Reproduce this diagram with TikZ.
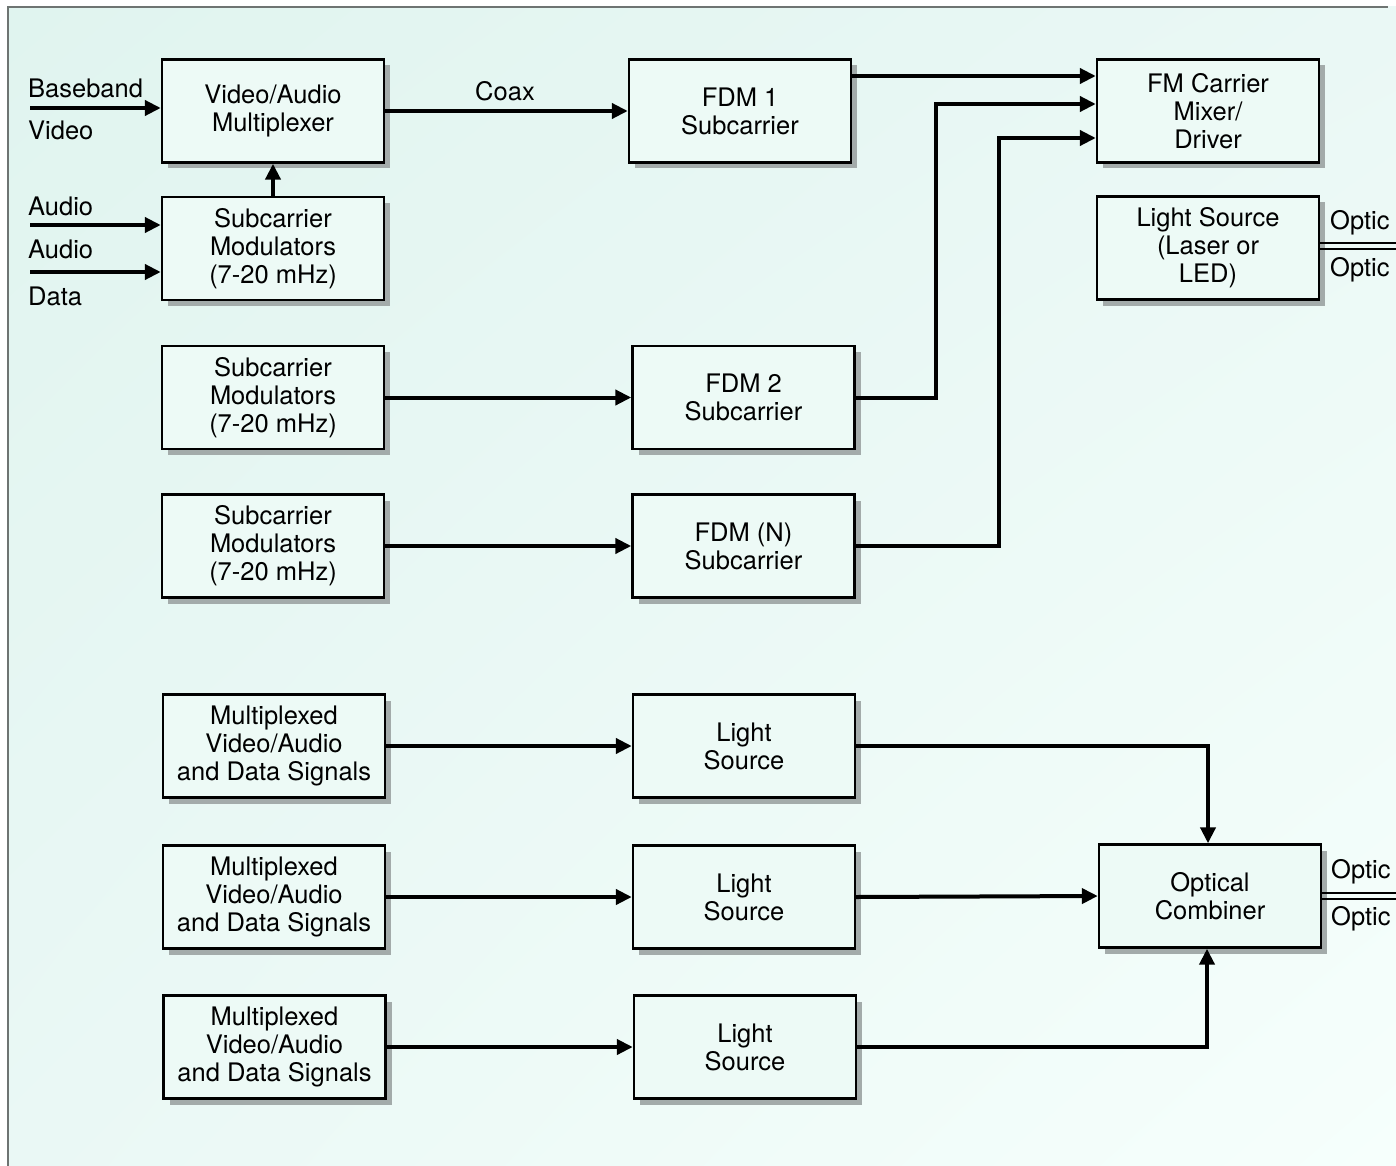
\documentclass[tikz,border=0pt]{standalone}
\usepackage{fontspec}
\setmainfont{TeX Gyre Heros}
\usetikzlibrary{arrows.meta,calc,shadings}
\definecolor{bgA}{HTML}{E0F4EF}
\definecolor{bgB}{HTML}{EAF8F5}
\definecolor{bgC}{HTML}{F6FFFC}
\definecolor{boxfill}{HTML}{EDFAF6}
\definecolor{shadowc}{HTML}{A3ABAA}
\definecolor{framec}{HTML}{6E7472}
\tikzset{
  blk/.style={draw=black, line width=2.4pt, fill=boxfill, minimum width=222pt, minimum height=103pt,
    inner sep=0pt, align=center, font=\fontsize{25.5}{28}\selectfont,
    preaction={draw=none, fill=shadowc, transform canvas={xshift=6pt,yshift=-6pt}}},
  lbl/.style={font=\fontsize{25.5}{28}\selectfont, inner sep=0pt, anchor=west},
  conn/.style={line width=4pt, -{Triangle[length=16pt,width=15pt]}},
  fib/.style={line width=1.6pt}
}
\begin{document}
\begin{tikzpicture}[x=1pt,y=-1pt]
\useasboundingbox (0,0) rectangle (1396,1166);
\clip (0,0) rectangle (1396,1166);
\fill[white] (0,0) rectangle (1396,1166);
\shade[upper left=bgA, upper right=bgB, lower left=bgB, lower right=bgC] (8,7) rectangle (1396,1166);
\draw[framec, line width=1.6pt] (8,1166) -- (8,7) -- (1388,7);

% boxes
\node[blk] (vam) at (273,111) {Video/Audio\\Multiplexer};
\node[blk] (sm1) at (273,248.5) {Subcarrier\\Modulators\\(7-20 mHz)};
\node[blk] (fdm1) at (740,111) {FDM 1\\Subcarrier};
\node[blk] (fm) at (1208,111) {FM Carrier\\Mixer/\\Driver};
\node[blk] (lsrc) at (1208,248) {Light Source\\(Laser or\\LED)};
\node[blk] (sm2) at (273,397.5) {Subcarrier\\Modulators\\(7-20 mHz)};
\node[blk] (fdm2) at (743.5,397.5) {FDM 2\\Subcarrier};
\node[blk] (sm3) at (273,546) {Subcarrier\\Modulators\\(7-20 mHz)};
\node[blk] (fdmn) at (743.5,546) {FDM (N)\\Subcarrier};
\node[blk] (mx1) at (274,746) {Multiplexed\\Video/Audio\\and Data Signals};
\node[blk] (ls1) at (744,746) {Light\\Source};
\node[blk] (mx2) at (274,897) {Multiplexed\\Video/Audio\\and Data Signals};
\node[blk] (ls2) at (744,897) {Light\\Source};
\node[blk] (mx3) at (274.5,1047) {Multiplexed\\Video/Audio\\and Data Signals};
\node[blk] (ls3) at (745,1047) {Light\\Source};
\node[blk] (oc) at (1210,896) {Optical\\Combiner};

% free ends
\coordinate (inV) at (30,108);
\coordinate (inA1) at (30,225);
\coordinate (inA2) at (30,272);

% labels
\node[lbl] (tBase) at (28,88) {Baseband};
\node[lbl] (tVid) at (28,130) {Video};
\node[lbl] (tAud1) at (28,206) {Audio};
\node[lbl] (tAud2) at (28,249) {Audio};
\node[lbl] (tData) at (28,296) {Data};
\node[lbl, anchor=center] (tCoax) at (505,91) {Coax};
\node[lbl] (tOp1) at (1330,223) {Optic};
\node[lbl] (tOp2) at (1330,270) {Optic};
\node[lbl] (tOp3) at (1331,872) {Optic};
\node[lbl] (tOp4) at (1331,919) {Optic};

% connectors
\draw[conn] (inV) -- (inV -| vam.west);
\draw[conn] (inA1) -- (inA1 -| sm1.west);
\draw[conn] (inA2) -- (inA2 -| sm1.west);
\draw[conn] (sm1.north) -- (vam.south);
\draw[conn] (vam.east) -- (fdm1.west);
\draw[conn] ([yshift=35pt]fdm1.east) -- ([yshift=35pt]fm.west);
\draw[conn] (fdm2.east) -- ++(80,0) |- ([yshift=7pt]fm.west);
\draw[conn] (fdmn.east) -- ++(143,0) |- ([yshift=-27pt]fm.west);
\draw[conn] (sm2.east) -- (fdm2.west);
\draw[conn] (sm3.east) -- (fdmn.west);
\draw[conn] (mx1.east) -- (ls1.west);
\draw[conn] (mx2.east) -- (ls2.west);
\draw[conn] (mx3.east) -- (ls3.west);
\draw[conn] (ls1.east) -| ([xshift=-2pt]oc.north);
\draw[conn] (ls2.east) -- (oc.west);
\draw[conn] (ls3.east) -| ([xshift=-3pt]oc.south);

% optical fibres
\draw[fib] ([yshift=5pt]lsrc.east) -- ++(90,0);
\draw[fib] ([yshift=-1pt]lsrc.east) -- ++(90,0);
\draw[fib] ([yshift=3pt]oc.east) -- ++(90,0);
\draw[fib] ([yshift=-3pt]oc.east) -- ++(90,0);
\end{tikzpicture}
\end{document}
